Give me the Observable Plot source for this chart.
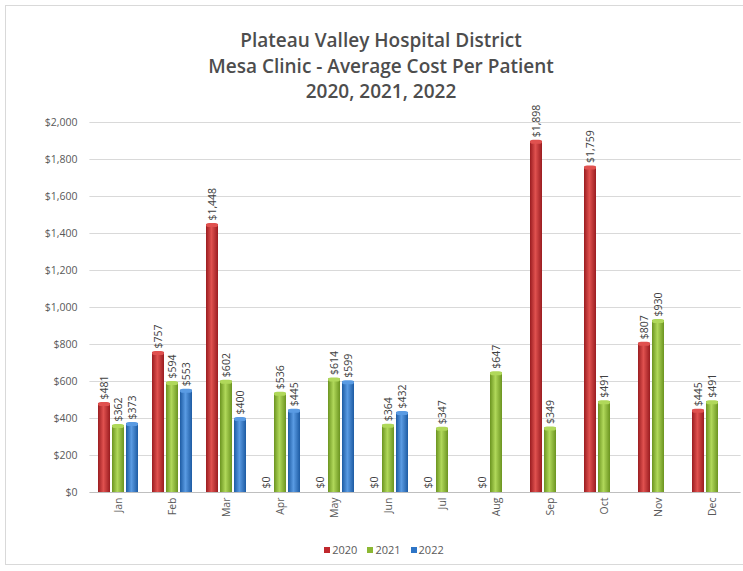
<!DOCTYPE html>
<html><head><meta charset="utf-8">
<script src="https://cdn.jsdelivr.net/npm/d3@7"></script>
<script src="https://cdn.jsdelivr.net/npm/@observablehq/plot@0.6"></script>
<style>
body{margin:0;background:#fff;font-family:Lato,"Open Sans",sans-serif;}
#wrap{position:relative;width:743px;height:571px;overflow:hidden;}
#frame{position:absolute;left:5px;top:5px;width:760px;height:560px;border:1px solid #d9d9d9;box-sizing:border-box;}
#title{position:absolute;left:0;top:28px;width:762px;text-align:center;font-family:"Open Sans",sans-serif;font-weight:600;font-size:19px;line-height:25.5px;color:#4d4d4d;}
#chart{position:absolute;left:0;top:0;}
#legend{position:absolute;left:0;width:768px;top:542px;text-align:center;font-size:11px;color:#595959;font-family:"Open Sans",sans-serif;}
#legend span.it{margin:0 5px;}
#legend span.sw{display:inline-block;width:6px;height:6px;margin-right:2px;vertical-align:1px;}
</style></head>
<body><div id="wrap"><div id="frame"></div><div id="chart"></div>
<div id="title">Plateau Valley Hospital District<br>Mesa Clinic - Average Cost Per Patient<br>2020, 2021, 2022</div>
<div id="legend"></div></div>
<script>
const months = ["Jan","Feb","Mar","Apr","May","Jun","Jul","Aug","Sep","Oct","Nov","Dec"];
const years = ["2020","2021","2022"];
const v2020 = [481,757,1448,0,0,0,0,0,1898,1759,807,445];
const v2021 = [362,594,602,536,614,364,347,647,349,491,930,491];
const v2022 = [373,553,400,445,599,432,null,null,null,null,null,null];
const yTicks = [0,200,400,600,800,1000,1200,1400,1600,1800,2000];
const colors = {"2020":["#9a1c20","#e0514f"],"2021":["#6b9420","#b0d85a"],"2022":["#1d5ba3","#5a9be3"]};
const legendColors = {"2020":"#c0282d","2021":"#8cb833","2022":"#2e75c6"};

const series = {"2020":v2020,"2021":v2021,"2022":v2022};
const rows = [];
for (const y of years) months.forEach((m,i)=>{ const v=series[y][i]; if(v!=null) rows.push({month:m,year:y,value:v}); });

const fmt = d => "$" + d3.format(",")(d);
const plot = Plot.plot({
  width: 743, height: 530,
  marginTop: 122, marginBottom: 38, marginLeft: 88, marginRight: 2,
  style: {fontFamily: "'Open Sans', sans-serif", color: "#595959", background: "transparent"},
  fx: {domain: months, paddingInner: 0.15, paddingOuter: 0.1, label: null},
  x: {domain: years, padding: 0.15, axis: null},
  y: {domain: [0, 2000], label: null},
  marks: [
    Plot.ruleY(yTicks.slice(1), {stroke: "#d9d9d9", strokeWidth: 1, insetLeft: -5.6, insetRight: -5.6}),
    Plot.ruleY([0], {stroke: "#bfbfbf", strokeWidth: 1, insetLeft: -5.6, insetRight: -5.6}),
    Plot.axisY({ticks: yTicks, tickSize: 0, tickPadding: 18, tickFormat: fmt, fontSize: 10.5, label: null}),
    Plot.axisFx({anchor: "bottom", tickRotate: -90, tickSize: 0, tickPadding: 5, fontSize: 10.5, label: null}),
    ...years.map(y => Plot.barY(rows.filter(d => d.year === y), {fx: "month", x: "year", y: "value", fill: `url(#grad${y})`})),
    ...years.map(y => Plot.barY(rows.filter(d => d.year === y && d.value > 0), {fx: "month", x: "year", y1: "value", y2: "value", insetTop: -1, insetBottom: -3, fill: colors[y][1], rx: 3})),
    Plot.text(rows, {fx: "month", x: "year", y: "value", text: d => fmt(d.value), rotate: -90, textAnchor: "start", dy: -4, fontSize: 10.5, fill: "#404040"})
  ]
});
const svg = d3.select(plot);
const defs = svg.insert("defs", ":first-child");
for (const y of years) {
  const g = defs.append("linearGradient").attr("id", "grad" + y).attr("x1", "0").attr("x2", "1").attr("y1", "0").attr("y2", "0");
  g.append("stop").attr("offset", "0").attr("stop-color", colors[y][0]);
  g.append("stop").attr("offset", "0.45").attr("stop-color", colors[y][1]);
  g.append("stop").attr("offset", "1").attr("stop-color", colors[y][0]);
}
document.getElementById("chart").appendChild(plot);
const lg = document.getElementById("legend");
lg.innerHTML = years.map(y => `<span class="it"><span class="sw" style="background:${legendColors[y]}"></span>${y}</span>`).join("");
</script></body></html>
